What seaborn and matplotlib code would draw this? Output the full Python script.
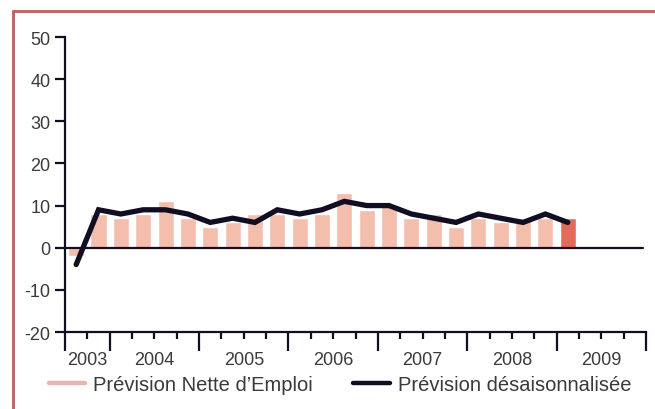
import matplotlib
matplotlib.use("Agg")
import matplotlib.pyplot as plt
from matplotlib.lines import Line2D
import seaborn as sns
import pandas as pd
import numpy as np

# ---- data ----
quarters = ["2003Q3", "2003Q4",
            "2004Q1", "2004Q2", "2004Q3", "2004Q4",
            "2005Q1", "2005Q2", "2005Q3", "2005Q4",
            "2006Q1", "2006Q2", "2006Q3", "2006Q4",
            "2007Q1", "2007Q2", "2007Q3", "2007Q4",
            "2008Q1", "2008Q2", "2008Q3", "2008Q4",
            "2009Q1"]
net_forecast = [-2, 8, 7, 8, 11, 7, 5, 6, 8, 8, 7, 8, 13,
                9, 10, 7, 8, 5, 7, 6, 7, 7, 7]
seasonal_adj = [-4, 9, 8, 9, 9, 8, 6, 7, 6, 9, 8, 9, 11,
                10, 10, 8, 7, 6, 8, 7, 6, 8, 6]
years = ["2003", "2004", "2005", "2006", "2007", "2008", "2009"]
year_quarters = [2, 4, 4, 4, 4, 4, 4]
yticks = [-20, -10, 0, 10, 20, 30, 40, 50]
legend_labels = ["Prévision Nette d\u2019Emploi", "Prévision désaisonnalisée"]

# ---- style ----
sns.set_style("white")
plt.rcParams['font.family'] = ['Liberation Sans', 'DejaVu Sans']
DARK = "#120e22"
PINK = "#f4bead"
RED = "#e46b5c"
TXT = "#3a3a3a"
FS = 13

df = pd.DataFrame({"q": quarters, "net": net_forecast, "sa": seasonal_adj})
df["idx"] = np.arange(len(df))

fig = plt.figure(figsize=(6.55, 4.10), dpi=100)
ax = fig.add_axes([65/655, 1-333/410, (646-65)/655, (333-38)/410])

bar_colors = [PINK] * (len(df) - 1) + [RED]
sns.barplot(data=df, x="q", y="net", hue="q", palette=bar_colors,
            legend=False, width=0.72, ax=ax, saturation=1, zorder=2)
ax.axhline(0, xmin=0, xmax=0.995, color=DARK, lw=1.6, zorder=3)
sns.lineplot(data=df, x="idx", y="sa", color=DARK, lw=3.8, ax=ax,
             zorder=4, solid_capstyle="round", solid_joinstyle="miter")

total_q = sum(year_quarters)
ax.set_xlim(-0.5, total_q - 0.5)
ax.set_ylim(-20, 50)
ax.set_xlabel("")
ax.set_ylabel("")

# y axis
ax.set_yticks(yticks)
ax.set_yticklabels([str(v) for v in yticks], fontsize=FS, color=TXT)
ax.tick_params(axis="y", length=7.5, width=1.6, color=DARK, pad=3, left=True)

# x axis ticks: year boundaries (major) and quarter boundaries (minor)
bounds = np.concatenate([[0], np.cumsum(year_quarters)]) - 0.5
ax.set_xticks(bounds)
ax.set_xticklabels([""] * len(bounds))
ax.set_xticks(np.arange(total_q + 1) - 0.5, minor=True)
ax.tick_params(axis="x", which="major", length=14, width=1.6, color=DARK, bottom=True)
ax.tick_params(axis="x", which="minor", length=5, width=1.6, color=DARK, bottom=True)

centers = (bounds[:-1] + bounds[1:]) / 2
for c, yr in zip(centers, years):
    ax.text(c, -0.092, yr, transform=ax.get_xaxis_transform(), ha="center",
            va="center", fontsize=FS, color=TXT)

for s in ["top", "right"]:
    ax.spines[s].set_visible(False)
for s in ["left", "bottom"]:
    ax.spines[s].set_color(DARK)
    ax.spines[s].set_linewidth(1.6)

# legend
handles = [Line2D([], [], color="#e8b5b1", lw=3.2),
           Line2D([], [], color=DARK, lw=3.2)]
fig.legend(handles, legend_labels, loc="center left",
           bbox_to_anchor=(49/655, 1-386/410), ncol=2, frameon=False,
           fontsize=14.5, labelcolor=TXT, handlelength=1.8, handletextpad=0.4,
           columnspacing=2.0, borderpad=0, borderaxespad=0)

# figure border (top and left)
BORDER = "#bd5f5d"
fig.add_artist(Line2D([13/655, 13/655], [0, 1-12/410], color=BORDER, lw=2.0,
                      transform=fig.transFigure))
fig.add_artist(Line2D([13/655, 1], [1-12/410, 1-12/410], color=BORDER, lw=2.0,
                      transform=fig.transFigure))

fig.savefig("out.png", dpi=100)
